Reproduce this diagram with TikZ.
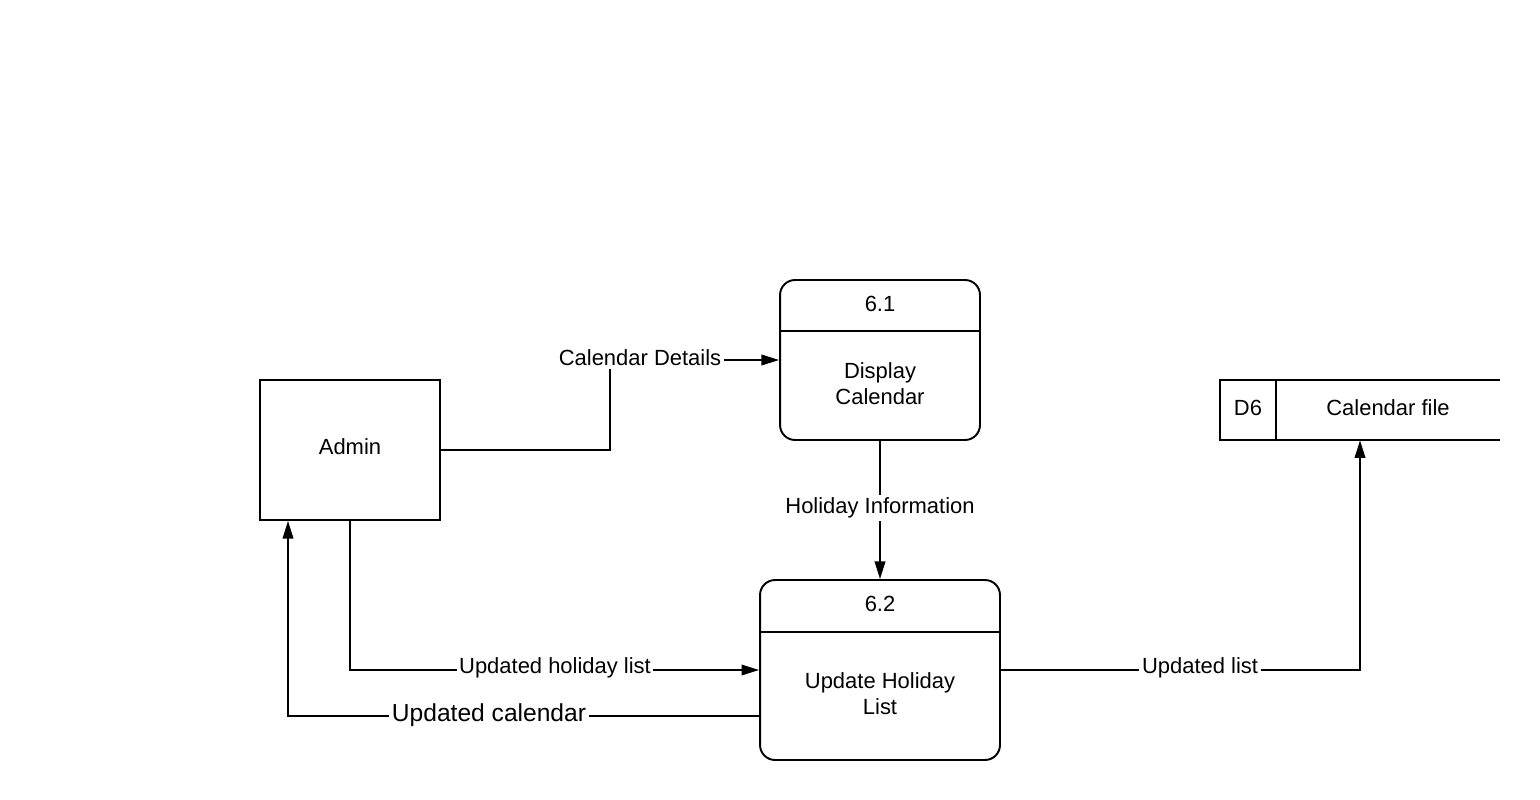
\documentclass[tikz,border=0pt]{standalone}
\usepackage{fontspec}
\setmainfont{Liberation Sans}
\usetikzlibrary{arrows.meta}

\begin{document}
\begin{tikzpicture}[x=0.02cm, y=-0.02cm]
    \tikzset{
        txt/.style={font=\fontsize{12.5}{14.8}\selectfont, align=center, inner sep=1pt},
        entity/.style={txt, rectangle, line width=1.1pt, draw=black, minimum width=3.6cm, minimum height=2.8cm},
        proc/.style={rectangle, rounded corners=0.3cm, line width=1.1pt, draw=black, inner sep=0pt},
        flowlabel/.style={txt, fill=white, inner sep=1.5pt},
        flow/.style={-{Triangle[length=10pt, width=6pt]}, line width=1.1pt},
        rule/.style={line width=1.1pt}
    }
    \useasboundingbox (0,0) rectangle (1540,800);

    % External entity and processes:
    \node[entity] (admin) at (350,450) {};
    \node[txt] (adminname) at (350,447) {Admin};

    \node[proc, minimum width=4cm, minimum height=3.2cm] (p61) at (880,360) {};
    \node[txt] (p61id)   at (880,304) {6.1};
    \node[txt] (p61name) at (880,384) {Display\\Calendar};
    \coordinate (d61) at (880,331);
    \draw[rule] (p61.west |- d61) -- (p61.east |- d61);

    \node[proc, minimum width=4.8cm, minimum height=3.6cm] (p62) at (880,670) {};
    \node[txt] (p62id)   at (880,604) {6.2};
    \node[txt] (p62name) at (880,694) {Update Holiday\\List};
    \coordinate (d62) at (880,632);
    \draw[rule] (p62.west |- d62) -- (p62.east |- d62);

    % Data store, open on the right:
    \node[minimum width=5.6cm, minimum height=1.2cm, inner sep=0pt] (store) at (1360,410) {};
    \draw[rule] (store.north east) -- (store.north west) -- (store.south west) -- (store.south east);
    \coordinate (d6) at (1276,410);
    \draw[rule] (d6 |- store.north) -- (d6 |- store.south);
    \node[txt] (storeid)   at (1248,408) {D6};
    \node[txt] (storename) at (1388,408) {Calendar file};

    % Data flows:
    \coordinate (bendcd) at (610,360);
    \coordinate (ucal)   at (288,716);
    \draw[flow] (admin.east) -| (bendcd) -- (p61.west);
    \draw[flow] (p61.south) -- (p62.north);
    \draw[flow] (admin.south) |- (p62.west);
    \draw[flow] (p62.west |- ucal) -| (ucal |- admin.south);
    \draw[flow] (p62.east) -| (store.south);

    \node[flowlabel] (lcd) at (640,358)  {Calendar Details};
    \node[flowlabel] (lhi) at (880,508)  {Holiday Information};
    \node[flowlabel] (lhl) at (555,668)  {Updated holiday list};
    \node[flowlabel, font=\fontsize{14}{16}\selectfont] (luc) at (489,715) {Updated calendar};
    \node[flowlabel] (lul) at (1200,668) {Updated list};
\end{tikzpicture}
\end{document}
